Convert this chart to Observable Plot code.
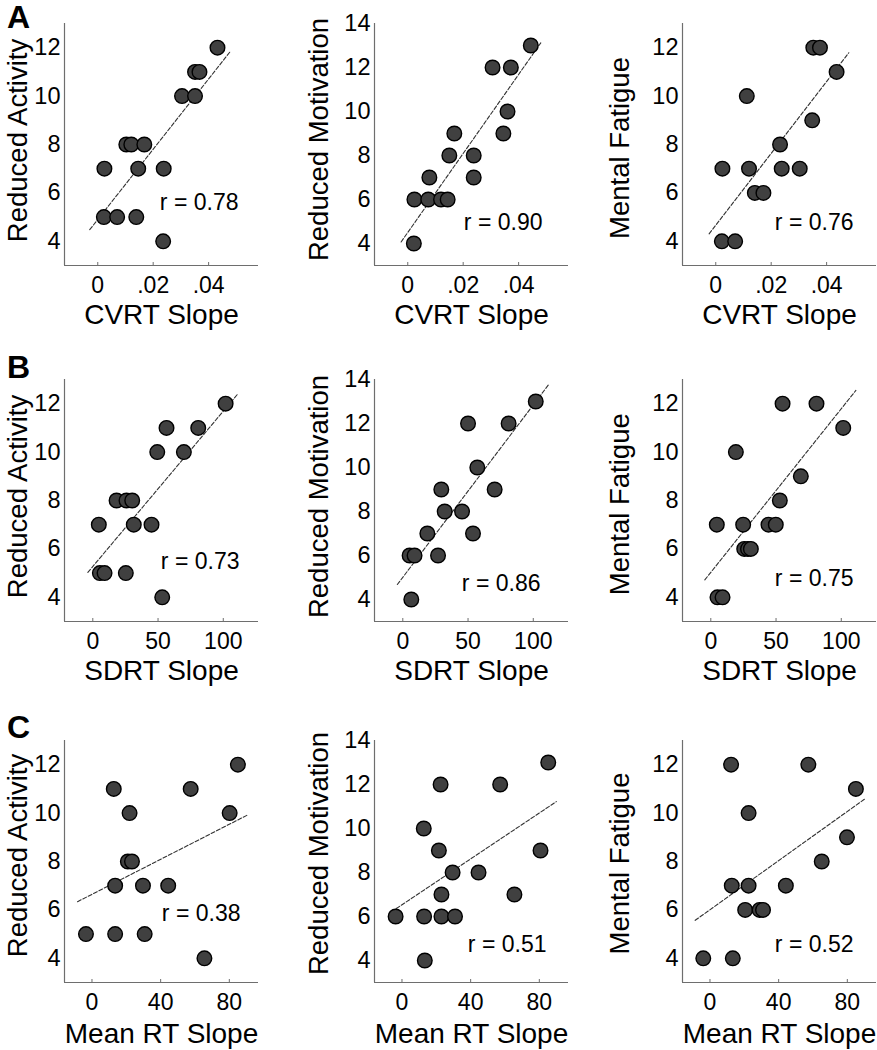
<!DOCTYPE html>
<html><head><meta charset="utf-8">
<script src="https://cdn.jsdelivr.net/npm/d3@7"></script>
<script src="https://cdn.jsdelivr.net/npm/@observablehq/plot@0.6"></script>
<style>
html,body{margin:0;padding:0;background:#fff;overflow:hidden;}
#chart{position:relative;width:877px;height:1050px;font-family:"Liberation Sans",Arial,Helvetica,sans-serif;}
.panel{position:absolute;}
.letter{position:absolute;left:7px;font-weight:bold;font-size:32px;line-height:32px;z-index:5;color:#000;}
</style></head><body><div id="chart"></div>
<script>
// ---------- DATA ----------
const panelLetters = ["A", "B", "C"];
const rowXLabels = ["CVRT Slope", "SDRT Slope", "Mean RT Slope"];
const colYLabels = ["Reduced Activity", "Reduced Motivation", "Mental Fatigue"];
const xDomains = [[-0.012, 0.058], [-21.7, 127], [-16, 97]];
const xTickValues = [[0, 0.02, 0.04], [0, 50, 100], [0, 40, 80]];
const yDomains = [[3, 13], [3, 14], [3, 13]];
const yTickValues = [[4, 6, 8, 10, 12], [4, 6, 8, 10, 12, 14], [4, 6, 8, 10, 12]];
const rValues = [0.78, 0.90, 0.76, 0.73, 0.86, 0.75, 0.38, 0.51, 0.52];

// Row A: CVRT slope
const cvrtActX = [0.0432, 0.0351, 0.0367, 0.0304, 0.0351, 0.0103, 0.0121, 0.0168, 0.0024, 0.0146, 0.0238, 0.0022, 0.0070, 0.0139, 0.0236];
const cvrtActY = [12, 11, 11, 10, 10, 8, 8, 8, 7, 7, 7, 5, 5, 5, 4];
const cvrtActFitX = [-0.0029, 0.0478];
const cvrtActFitY = [4.48, 11.84];

const cvrtMotX = [0.0444, 0.0306, 0.0372, 0.0360, 0.0345, 0.0168, 0.0150, 0.0238, 0.0078, 0.0238, 0.0024, 0.0074, 0.0120, 0.0144, 0.0022];
const cvrtMotY = [13, 12, 12, 10, 9, 9, 8, 8, 7, 7, 6, 6, 6, 6, 4];
const cvrtMotFitX = [-0.0024, 0.048];
const cvrtMotFitY = [4.07, 13.12];

const cvrtFatX = [0.0352, 0.0376, 0.0436, 0.0112, 0.0348, 0.0232, 0.0024, 0.0120, 0.0238, 0.0303, 0.0141, 0.0172, 0.0022, 0.0070];
const cvrtFatY = [12, 12, 11, 10, 9, 8, 7, 7, 7, 7, 6, 6, 4, 4];
const cvrtFatFitX = [-0.0024, 0.048];
const cvrtFatFitY = [4.31, 11.79];

// Row B: SDRT slope
const sdrtActX = [101.8, 56.5, 80.8, 49.4, 69.8, 18.2, 25.8, 30.2, 4.6, 31.4, 45, 5.4, 9, 25.3, 53.2];
const sdrtActY = [12, 11, 11, 10, 10, 8, 8, 8, 7, 7, 7, 5, 5, 5, 4];
const sdrtActFitX = [-3.8, 111.2];
const sdrtActFitY = [5.03, 12.41];

const sdrtMotX = [101.9, 50, 81.1, 57.1, 29.5, 70.4, 32.1, 45.4, 18.8, 53.8, 5.2, 9.0, 27, 6.5];
const sdrtMotY = [13, 12, 12, 10, 9, 9, 8, 8, 7, 7, 6, 6, 6, 4];
const sdrtMotFitX = [-4.2, 111.8];
const sdrtMotFitY = [4.68, 13.77];

const sdrtFatX = [55, 81, 101.5, 19.2, 69, 52.9, 4.6, 24.8, 44.2, 49.8, 25.6, 28.5, 30.7, 5.1, 9];
const sdrtFatY = [12, 12, 11, 10, 9, 8, 7, 7, 7, 7, 6, 6, 6, 4, 4];
const sdrtFatFitX = [-4.6, 111.2];
const sdrtFatFitY = [4.72, 12.55];

// Row C: Mean RT slope
const meanActX = [85, 12.7, 57.5, 21.9, 80.2, 20.9, 23.3, 13.5, 29.7, 44.4, -3.5, 13.5, 30.7, 65.5];
const meanActY = [12, 11, 11, 10, 10, 8, 8, 7, 7, 7, 5, 5, 5, 4];
const meanActFitX = [-8.4, 90.3];
const meanActFitY = [6.34, 9.91];

const meanMotX = [85.2, 22.5, 57.2, 12.7, 21.5, 80.7, 29.5, 44.6, 23, 65.5, -3.7, 12.9, 23, 30.9, 13.3];
const meanMotY = [13, 12, 12, 10, 9, 9, 8, 8, 7, 7, 6, 6, 6, 6, 4];
const meanMotFitX = [-3.3, 89.9];
const meanMotFitY = [6.36, 11.22];

const meanFatX = [12.3, 57.3, 85, 22.5, 79.8, 65.1, 12.7, 22.5, 44.2, 20.5, 28.9, 30.9, -3.9, 13.3];
const meanFatY = [12, 12, 11, 10, 9, 8, 7, 7, 7, 6, 6, 6, 4, 4];
const meanFatFitX = [-8.6, 90.5];
const meanFatFitY = [5.57, 10.6];

const panelData = [
  [[cvrtActX, cvrtActY, cvrtActFitX, cvrtActFitY], [cvrtMotX, cvrtMotY, cvrtMotFitX, cvrtMotFitY], [cvrtFatX, cvrtFatY, cvrtFatFitX, cvrtFatFitY]],
  [[sdrtActX, sdrtActY, sdrtActFitX, sdrtActFitY], [sdrtMotX, sdrtMotY, sdrtMotFitX, sdrtMotFitY], [sdrtFatX, sdrtFatY, sdrtFatFitX, sdrtFatFitY]],
  [[meanActX, meanActY, meanActFitX, meanActFitY], [meanMotX, meanMotY, meanMotFitX, meanMotFitY], [meanFatX, meanFatY, meanFatFitX, meanFatFitY]]
];

// ---------- LAYOUT ----------
const FONT = '"Liberation Sans", Arial, Helvetica, sans-serif';
const frameLefts = [64, 373.5, 681.5];
const frameTops = [23, 378.5, 740];
const frameW = 194, frameH = 242;
const mL = 64, mR = 2, mT = 20, mB = 66;
const letterTops = [1, 351, 711];
const xLabelDy = [58, 58, 60];
const yLabelDx = [-46, -55, -62];
const yLabelDy = [[-4, -5, 3.5], [-4, -4, 3.7], [-6, -8, 2]];
const rGap = [[20, 26, 23], [19, 28, 23], [18, 22, 23]];
const rBase = [[56, 36, 36], [53, 31, 36], [62, 31, 31]];

function fmtX(row) {
  if (row === 0) return d => d === 0 ? "0" : d3.format(".2f")(d).replace(/^0/, "");
  return d => String(d);
}

const chart = document.getElementById("chart");
const axisColor = "#6e6e6e";

for (let row = 0; row < 3; row++) {
  for (let col = 0; col < 3; col++) {
    const [xs, ys, fx, fy] = panelData[row][col];
    const pts = xs.map((x, i) => ({x, y: ys[i]}));
    const fit = fx.map((x, i) => ({x, y: fy[i]}));
    const xd = xDomains[row], yd = yDomains[col];
    const svg = Plot.plot({
      width: mL + frameW + mR,
      height: mT + frameH + mB,
      marginLeft: mL, marginRight: mR, marginTop: mT, marginBottom: mB,
      style: {fontFamily: FONT, color: "#000", background: "transparent", overflow: "visible", maxWidth: "none"},
      x: {domain: xd},
      y: {domain: yd},
      marks: [
        Plot.ruleX([xd[0]], {stroke: axisColor, strokeWidth: 1.2}),
        Plot.ruleY([yd[0]], {stroke: axisColor, strokeWidth: 1.2}),
        Plot.tickX(xTickValues[row], {x: d => d, insetTop: frameH - 3, stroke: axisColor}),
        Plot.line(fit, {x: "x", y: "y", stroke: "#333", strokeWidth: 1.1, strokeDasharray: "4,2"}),
        Plot.dot(pts, {x: "x", y: "y", r: 7.3, fill: "#404040", stroke: "#000", strokeWidth: 1.4}),
        Plot.axisX(xTickValues[row], {tickSize: 0, tickPadding: 11, tickFormat: fmtX(row), fontSize: 23, label: null}),
        Plot.axisY(yTickValues[col], {tickSize: 0, tickPadding: 4, fontSize: 23.5, label: null}),
        Plot.text([rowXLabels[row]], {text: d => d, frameAnchor: "bottom", lineAnchor: "bottom", dy: xLabelDy[row], fontSize: 28}),
        Plot.text([colYLabels[col]], {text: d => d, frameAnchor: "left", rotate: -90, textAnchor: "middle", lineAnchor: "middle", dx: yLabelDx[col], dy: yLabelDy[row][col], fontSize: 27.5}),
        Plot.text([rValues[row * 3 + col]], {text: d => "r = " + d.toFixed(2), frameAnchor: "bottom-right", textAnchor: "end", lineAnchor: "bottom", dx: -rGap[row][col], dy: -rBase[row][col], fontSize: 23})
      ]
    });
    svg.classList.add("panel");
    svg.style.position = "absolute";
    svg.style.left = (frameLefts[col] - mL) + "px";
    svg.style.top = (frameTops[row] - mT) + "px";
    chart.appendChild(svg);
  }
  const L = document.createElement("div");
  L.className = "letter";
  L.style.top = letterTops[row] + "px";
  L.textContent = panelLetters[row];
  chart.appendChild(L);
}
</script></body></html>
